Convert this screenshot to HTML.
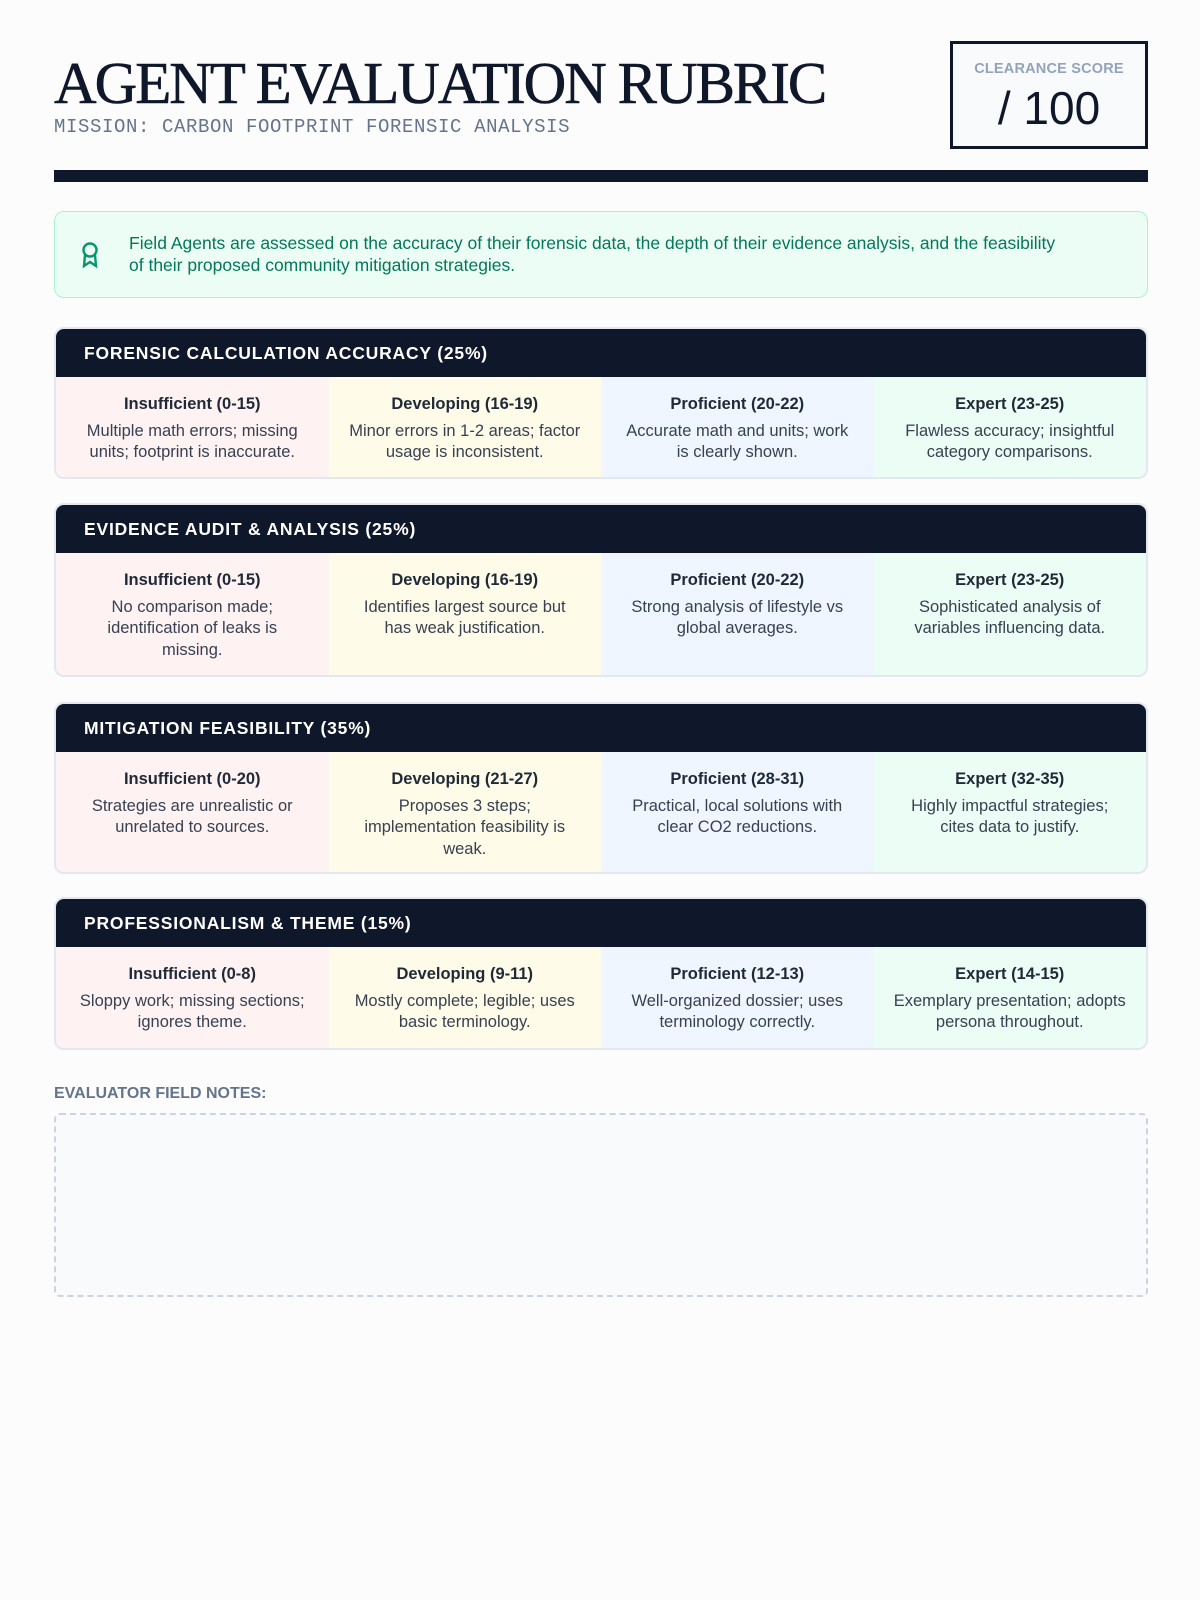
<!DOCTYPE html>
<html><head><meta charset="utf-8"><style>
*{box-sizing:border-box;margin:0;padding:0}
body{width:1200px;height:1600px;background:#fcfcfd;font-family:"Liberation Sans",sans-serif;color:#0f172a;position:relative;overflow:hidden}
.wrap{position:absolute;left:54px;width:1094px;top:0}
h1{position:absolute;top:50px;left:0;font-family:"Liberation Serif",serif;font-size:59px;font-weight:400;letter-spacing:-2px;color:#0f172a;line-height:66px;-webkit-text-stroke:0.6px #0f172a}
.sub{position:absolute;top:116px;left:0;font-family:"Liberation Mono",monospace;font-size:19px;color:#64748b;letter-spacing:0.6px}
.score{position:absolute;left:896px;top:41px;width:198px;height:108px;border:3px solid #0f172a;background:#f8fafc;text-align:center}
.score .l{font-size:14.5px;color:#94a3b8;font-weight:bold;margin-top:17px;letter-spacing:0.2px}
.score .v{font-size:46px;color:#0f172a;margin-top:4px}
.bar{position:absolute;top:170px;left:0;width:1094px;height:12px;background:#0f172a}
.info{position:absolute;top:211px;left:0;width:1094px;height:87px;background:#ecfdf5;border:1.5px solid #a7f3d0;border-radius:10px;color:#047857;font-size:17.5px;line-height:22px;padding:20px 75px 0 74px}
.info svg{position:absolute;left:25px;top:29px}
.sec{position:absolute;left:0;width:1094px;border:2px solid #e2e8f0;border-radius:10px;overflow:hidden;background:#fff}
.sec .h{background:#0f172a;color:#fff;font-weight:bold;font-size:17.5px;letter-spacing:0.8px;height:48px;line-height:48px;padding-left:28px}
.row{display:flex;height:calc(100% - 48px)}
.c{flex:1;text-align:center;padding:17px 20px 0;font-size:16.5px;line-height:21.5px;color:#374151}
.c b{display:block;color:#1f2937;font-size:16.5px;margin-bottom:5px}
.c1{background:#fef2f2}.c2{background:#fefce8}.c3{background:#eff6ff}.c4{background:#ecfdf5}
.fn{position:absolute;left:0;font-size:16px;font-weight:bold;color:#64748b}
.notes{position:absolute;top:1113px;left:0;width:1094px;height:184px;border:2.5px dashed #cbd5e1;border-radius:6px;background:#f8fafc}
</style></head><body><div class="wrap">
<h1>AGENT EVALUATION RUBRIC</h1>
<div class="sub">MISSION: CARBON FOOTPRINT FORENSIC ANALYSIS</div>
<div class="score"><div class="l">CLEARANCE SCORE</div><div class="v">/ 100</div></div>
<div class="bar"></div>
<div class="info"><svg width="20" height="28" viewBox="0 0 20 28" fill="none" stroke="#059669" stroke-width="2.4"><circle cx="10" cy="9" r="6.5"/><path d="M5 14 L4 25 L10 21 L16 25 L15 14"/></svg>Field Agents are assessed on the accuracy of their forensic data, the depth of their evidence analysis, and the feasibility of their proposed community mitigation strategies.</div>

<div class="sec" style="top:327px;height:152px"><div class="h">FORENSIC CALCULATION ACCURACY (25%)</div><div class="row">
<div class="c c1"><b>Insufficient (0-15)</b>Multiple math errors; missing units; footprint is inaccurate.</div>
<div class="c c2"><b>Developing (16-19)</b>Minor errors in 1-2 areas; factor usage is inconsistent.</div>
<div class="c c3"><b>Proficient (20-22)</b>Accurate math and units; work is clearly shown.</div>
<div class="c c4"><b>Expert (23-25)</b>Flawless accuracy; insightful category comparisons.</div></div></div>

<div class="sec" style="top:503px;height:174px"><div class="h">EVIDENCE AUDIT &amp; ANALYSIS (25%)</div><div class="row">
<div class="c c1"><b>Insufficient (0-15)</b>No comparison made; identification of leaks is missing.</div>
<div class="c c2"><b>Developing (16-19)</b>Identifies largest source but has weak justification.</div>
<div class="c c3"><b>Proficient (20-22)</b>Strong analysis of lifestyle vs global averages.</div>
<div class="c c4"><b>Expert (23-25)</b>Sophisticated analysis of variables influencing data.</div></div></div>

<div class="sec" style="top:702px;height:172px"><div class="h">MITIGATION FEASIBILITY (35%)</div><div class="row">
<div class="c c1"><b>Insufficient (0-20)</b>Strategies are unrealistic or unrelated to sources.</div>
<div class="c c2"><b>Developing (21-27)</b>Proposes 3 steps; implementation feasibility is weak.</div>
<div class="c c3"><b>Proficient (28-31)</b>Practical, local solutions with clear CO2 reductions.</div>
<div class="c c4"><b>Expert (32-35)</b>Highly impactful strategies; cites data to justify.</div></div></div>

<div class="sec" style="top:897px;height:153px"><div class="h">PROFESSIONALISM &amp; THEME (15%)</div><div class="row">
<div class="c c1"><b>Insufficient (0-8)</b>Sloppy work; missing sections; ignores theme.</div>
<div class="c c2"><b>Developing (9-11)</b>Mostly complete; legible; uses basic terminology.</div>
<div class="c c3"><b>Proficient (12-13)</b>Well-organized dossier; uses terminology correctly.</div>
<div class="c c4"><b>Expert (14-15)</b>Exemplary presentation; adopts persona throughout.</div></div></div>

<div class="fn" style="top:1085px">EVALUATOR FIELD NOTES:</div>
<div class="notes"></div>
</div></body></html>
